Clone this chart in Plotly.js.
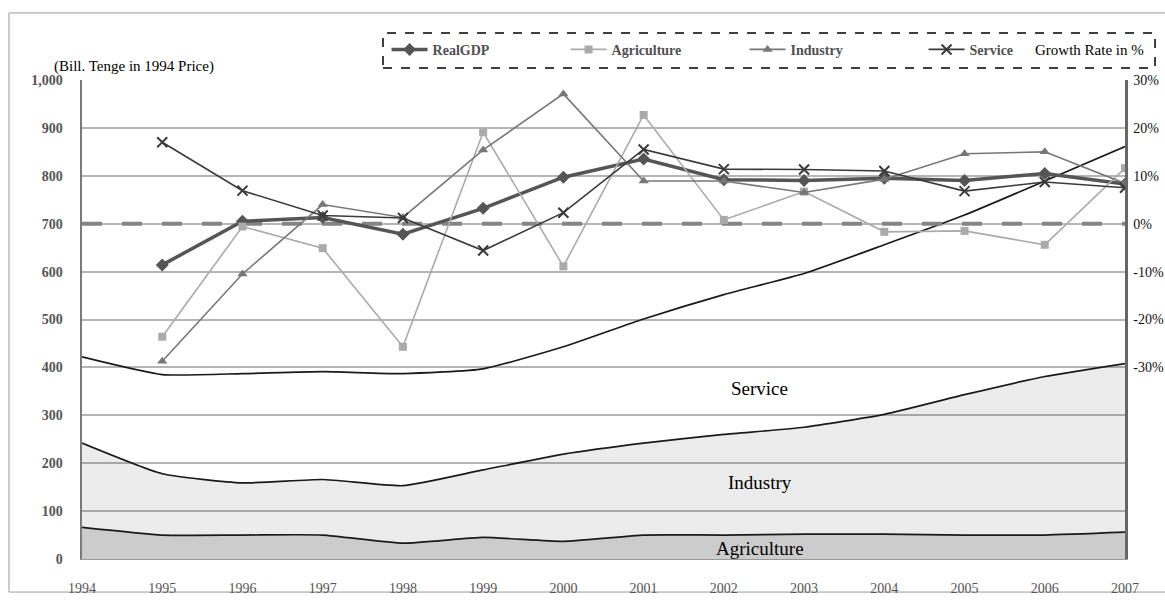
<!DOCTYPE html>
<html>
<head>
<meta charset="utf-8">
<script src="https://cdn.plot.ly/plotly-3.0.1.min.js"></script>
<style>
  html, body { margin: 0; padding: 0; background: #fff; }
  #chart { width: 1165px; height: 608px; }
</style>
</head>
<body>
<div id="chart"></div>
<script>
// ---- data ----
const years = [1994, 1995, 1996, 1997, 1998, 1999, 2000, 2001, 2002, 2003, 2004, 2005, 2006, 2007];

// Levels, Bill. Tenge in 1994 prices (stacked areas)
const agricultureLevel = [66, 50, 50, 50, 33, 45, 37, 50, 50, 52, 52, 50, 50, 56];
const industryLevel    = [176, 128, 109, 116, 120, 141, 182, 192, 210, 223, 250, 293, 331, 352];
const serviceLevel     = [180, 207, 228, 225, 234, 211, 224, 259, 292, 321, 354, 375, 408, 453];

// Growth rates, % (right axis)
const gdpGrowth         = [null, -8.6, 0.5, 1.3, -2.2, 3.2, 9.7, 13.5, 9.2, 9.0, 9.5, 9.0, 10.5, 8.3];
const agricultureGrowth = [null, -23.6, -0.6, -5.1, -25.7, 19.1, -8.9, 22.7, 0.8, 6.7, -1.7, -1.5, -4.4, 11.6];
const industryGrowth    = [null, -28.7, -10.5, 4.0, 1.3, 15.4, 27.1, 8.9, 8.9, 6.5, 9.3, 14.6, 15.0, 8.4];
const serviceGrowth     = [null, 17.0, 6.9, 1.7, 1.2, -5.6, 2.3, 15.5, 11.4, 11.3, 11.0, 6.8, 8.7, 7.5];

// Axis ticks
const leftTicks = [0, 100, 200, 300, 400, 500, 600, 700, 800, 900, 1000];
const rightTicks = [-30, -20, -10, 0, 10, 20, 30];
const rightTickText = rightTicks.map(v => v + '%');
const areaLabels = [
  {text: 'Service', x: 2002.45, y: 355},
  {text: 'Industry', x: 2002.45, y: 159},
  {text: 'Agriculture', x: 2002.45, y: 21}
];

const serif = 'Liberation Serif';

const areaLine = {color: '#1a1a1a', width: 1.7, shape: 'spline', smoothing: 0.5};

const traces = [
  {x: years, y: agricultureLevel, type: 'scatter', mode: 'lines', stackgroup: 'lvl',
   line: areaLine, fillcolor: 'rgba(0,0,0,0.20)', showlegend: false, hoverinfo: 'skip'},
  {x: years, y: industryLevel, type: 'scatter', mode: 'lines', stackgroup: 'lvl',
   line: areaLine, fillcolor: 'rgba(0,0,0,0.075)', showlegend: false, hoverinfo: 'skip'},
  {x: years, y: serviceLevel, type: 'scatter', mode: 'lines', stackgroup: 'lvl',
   line: areaLine, fillcolor: 'rgba(0,0,0,0.0)', showlegend: false, hoverinfo: 'skip'},

  // 0% reference line (right axis)
  {x: [years[0], years[years.length - 1]], y: [0, 0], yaxis: 'y2', type: 'scatter', mode: 'lines',
   line: {color: '#858585', width: 4, dash: '20px,20px'}, showlegend: false, hoverinfo: 'skip'},

  {x: years, y: gdpGrowth, yaxis: 'y2', type: 'scatter', mode: 'lines+markers', name: 'RealGDP',
   line: {color: '#555555', width: 3.5}, marker: {symbol: 'diamond', size: 10, color: '#555555'}},
  {x: years, y: agricultureGrowth, yaxis: 'y2', type: 'scatter', mode: 'lines+markers', name: 'Agriculture',
   line: {color: '#aaaaaa', width: 1.6}, marker: {symbol: 'square', size: 8, color: '#aaaaaa'}},
  {x: years, y: industryGrowth, yaxis: 'y2', type: 'scatter', mode: 'lines+markers', name: 'Industry',
   line: {color: '#777777', width: 1.6}, marker: {symbol: 'triangle-up', size: 9, color: '#777777'}},
  {x: years, y: serviceGrowth, yaxis: 'y2', type: 'scatter', mode: 'lines+markers', name: 'Service',
   line: {color: '#3a3a3a', width: 1.6}, marker: {symbol: 'x-thin-open', size: 10, line: {color: '#3a3a3a', width: 2}}}
];

const annotations = areaLabels.map(a => ({
  text: a.text, x: a.x, y: a.y, xref: 'x', yref: 'y', showarrow: false,
  font: {family: serif, size: 19, color: '#000'}
}));
annotations.push({
  text: '(Bill. Tenge in 1994 Price)', xref: 'paper', yref: 'paper',
  x: -0.029, y: 1.028, xanchor: 'left', yanchor: 'middle', showarrow: false,
  font: {family: serif, size: 15, color: '#000'}
});
annotations.push({
  text: 'Growth Rate in %', xref: 'paper', yref: 'paper',
  x: 0.966, y: 1.063, xanchor: 'center', yanchor: 'middle', showarrow: false,
  font: {family: serif, size: 15, color: '#000'}
});

const shapes = [
  // outer frame
  {type: 'rect', xref: 'paper', yref: 'paper', x0: -0.070, x1: 1.06, y0: -0.069, y1: 1.140,
   line: {color: '#9a9a9a', width: 1}, fillcolor: 'rgba(0,0,0,0)', layer: 'below'},
  // legend dashed box
  {type: 'rect', xref: 'paper', yref: 'paper', x0: 0.2886, x1: 1.0288, y0: 1.025, y1: 1.098,
   line: {color: '#000', width: 1.5, dash: 'dash'}, fillcolor: 'rgba(0,0,0,0)', layer: 'below'}
];

const layout = {
  width: 1165, height: 608,
  margin: {l: 82, r: 40, t: 80, b: 49},
  paper_bgcolor: '#ffffff', plot_bgcolor: '#ffffff',
  showlegend: true,
  legend: {
    orientation: 'h', traceorder: 'normal', x: 0.292, xanchor: 'left', y: 1.063, yanchor: 'middle',
    bgcolor: 'rgba(0,0,0,0)', itemwidth: 36, entrywidth: 128, entrywidthmode: 'pixels',
    font: {family: serif, size: 14, color: '#505050', weight: 'bold'}, tracegroupgap: 0
  },
  xaxis: {
    range: [1994, 2007], tickvals: years, ticktext: years.map(String),
    showgrid: false, zeroline: false, showline: true, linecolor: '#999', linewidth: 1,
    ticks: 'outside', ticklen: 16, tickcolor: 'rgba(0,0,0,0)',
    tickfont: {family: serif, size: 14, color: '#555'}, fixedrange: true
  },
  yaxis: {
    range: [0, 1000], tickvals: leftTicks, tickformat: ',',
    showgrid: true, gridcolor: '#b5b5b5', gridwidth: 2,
    zeroline: false, showline: true, linecolor: '#7a7a7a', linewidth: 2.5,
    ticks: 'outside', ticklen: 14, tickcolor: 'rgba(0,0,0,0)',
    tickfont: {family: serif, size: 14, color: '#555', weight: 'bold'}, fixedrange: true
  },
  yaxis2: {
    overlaying: 'y', side: 'right', range: [-70, 30], tickvals: rightTicks, ticktext: rightTickText,
    showgrid: false, zeroline: false, showline: true, linecolor: '#666', linewidth: 2.5,
    ticks: 'outside', ticklen: 3, tickcolor: 'rgba(0,0,0,0)',
    tickfont: {family: serif, size: 14, color: '#111'}, fixedrange: true
  },
  annotations: annotations,
  shapes: shapes,
  hovermode: false
};

Plotly.newPlot('chart', traces, layout, {staticPlot: true, displayModeBar: false});
</script>
</body>
</html>
